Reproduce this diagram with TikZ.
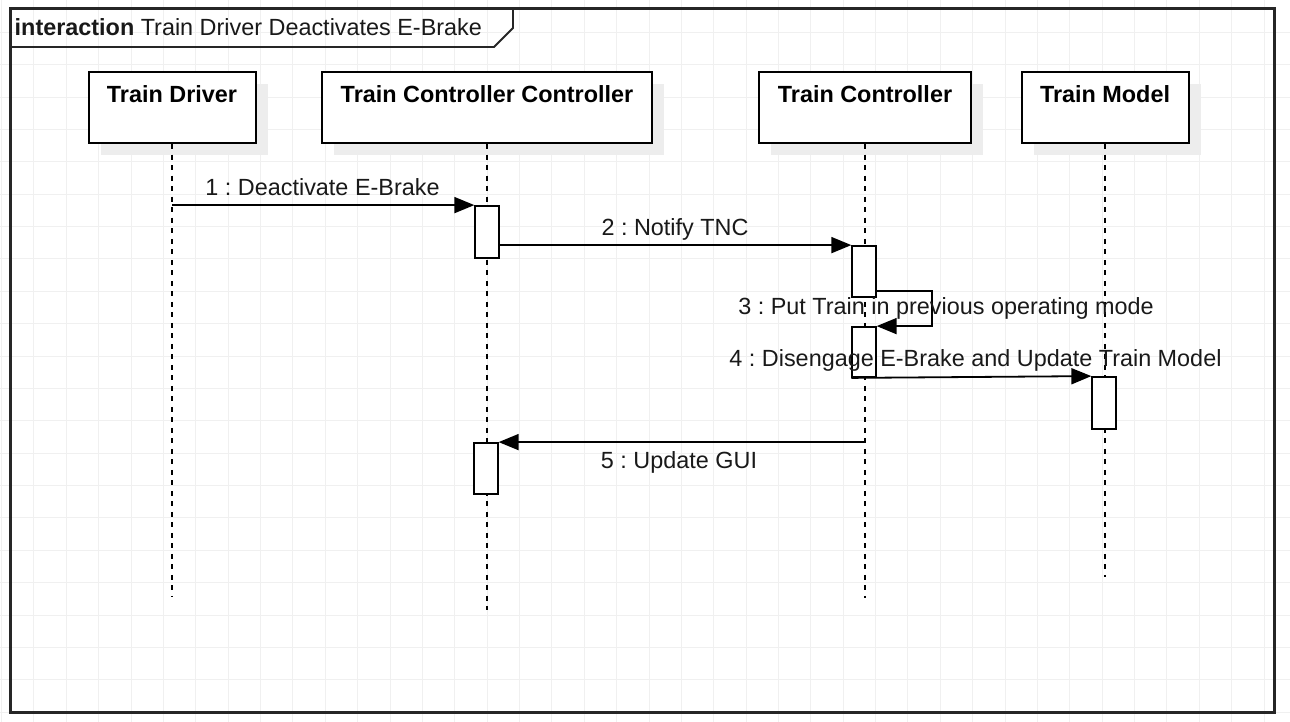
\documentclass[tikz,border=0pt]{standalone}
\usepackage{fontspec}
\setmainfont{Liberation Sans}
\usetikzlibrary{arrows.meta,shadows,calc}
\newcommand\dgfont{\fontsize{23.4}{27}\selectfont}
\frenchspacing
\begin{document}
\begin{tikzpicture}[x=1pt,y=-1pt,
  gridline/.style={draw=black!6, line width=1pt},
  framestyle/.style={draw=black!85, line width=2.2pt},
  participant/.style={draw=black, line width=2pt, fill=white,
    minimum width=#1, minimum height=71.5pt, inner sep=0pt,
    drop shadow={shadow xshift=12pt, shadow yshift=-12pt, opacity=1, fill=black!7}},
  ptext/.style={font=\dgfont\bfseries, anchor=base, inner sep=0pt},
  lifeline/.style={draw=black, line width=1.8pt, dash pattern=on 5pt off 5.5pt},
  act/.style={draw=black, line width=1.8pt, fill=white, minimum width=23.5pt, inner sep=0pt},
  msg/.style={draw=black, line width=1.8pt, -{Triangle[length=20pt,width=16pt]}},
  lbl/.style={font=\dgfont, anchor=base, inner sep=0pt, text=black!90}
]
% canvas
\fill[white] (0,0) rectangle (1290,722);
\useasboundingbox (0,0) rectangle (1290,722);
% grid
\foreach \i in {0,...,39} \draw[gridline] ({1.6+32.37*\i},0) -- ({1.6+32.37*\i},722);
\foreach \j in {0,...,22} \draw[gridline] (0,{32.37*\j}) -- (1290,{32.37*\j});
% frame
\draw[framestyle] (10.5,8.5) rectangle (1274.5,712.5);
\draw[draw=black!85, line width=1.8pt] (10.5,47) -- (494,47) -- (513,28) -- (513,8.5);
\node[anchor=base west, inner sep=0pt, font=\dgfont, text=black!90] (title) at (14.5,35.7)
  {\textbf{interaction} Train Driver Deactivates E-Brake};
% lifeline end points
\coordinate (tdE) at (172,597);
\coordinate (tccE) at (487,610);
\coordinate (tcE) at (865,598);
\coordinate (tmE) at (1105,577);
% participants
\node[participant=167pt] (td) at (172,107.5) {};
\node[participant=330pt] (tcc) at (487,107.5) {};
\node[participant=212pt] (tc) at (865,107.5) {};
\node[participant=167pt] (tm) at (1105,107.5) {};
\node[ptext] (tdL) at ($(td.north)+(0,31.6)$) {Train Driver};
\node[ptext] (tccL) at ($(tcc.north)+(0,31.6)$) {Train Controller Controller};
\node[ptext] (tcL) at ($(tc.north)+(0,31.6)$) {Train Controller};
\node[ptext] (tmL) at ($(tm.north)+(0,31.6)$) {Train Model};
% lifelines
\draw[lifeline] (td.south) -- (tdE);
\draw[lifeline] (tcc.south) -- (tccE);
\draw[lifeline] (tc.south) -- (tcE);
\draw[lifeline] (tm.south) -- (tmE);
% activation bars
\node[act, minimum height=52pt] (a1) at (487,232) {};
\node[act, minimum height=51pt] (a2) at (864,271.5) {};
\node[act, minimum height=50pt] (a3) at (864,352) {};
\node[act, minimum height=52pt] (a4) at (1104,403) {};
\node[act, minimum height=51pt] (a5) at (486,468.5) {};
% messages
\draw[msg] (td.south |- a1.north) -- (a1.north west);
\draw[msg] (a1.east |- a2.north) -- (a2.north west);
\draw[msg] ($(a2.south east)+(0,-7)$) -| ($(a3.north east)+(55,0)$) -- (a3.north east);
\draw[msg] (a3.south west) -- (a4.north west);
\draw[msg] (tc.south |- a5.north) -- (a5.north east);
% labels
\node[lbl] (l1) at (322.5,196) {1 : Deactivate E-Brake};
\node[lbl] (l2) at (675,236) {2 : Notify TNC};
\node[lbl] (l3) at (946,314) {3 : Put Train in previous operating mode};
\node[lbl] (l4) at (975.5,366.7) {4 : Disengage E-Brake and Update Train Model};
\node[lbl] (l5) at (679,468.7) {5 : Update GUI};
\end{tikzpicture}
\end{document}
